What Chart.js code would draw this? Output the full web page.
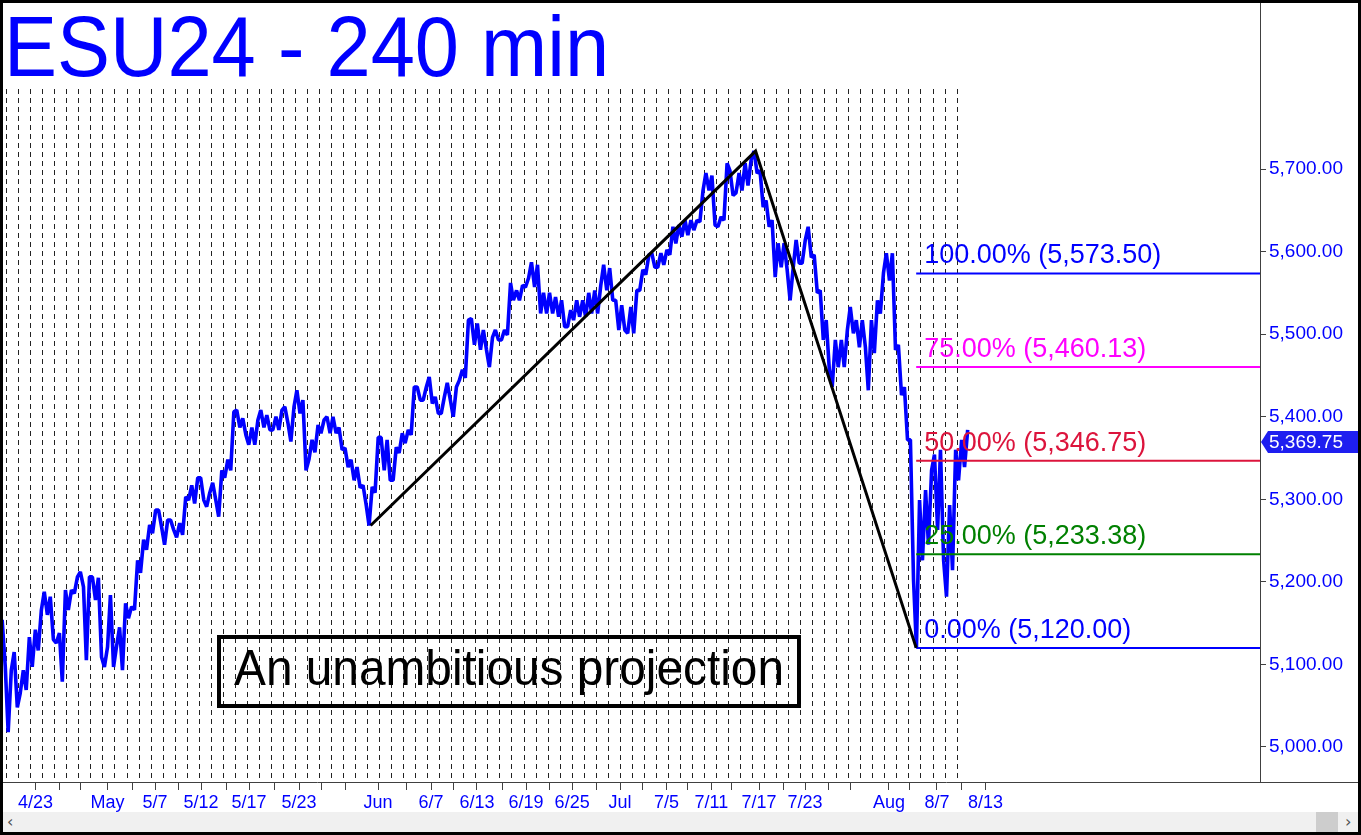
<!DOCTYPE html>
<html>
<head>
<meta charset="utf-8">
<title>ESU24 - 240 min</title>
<script src="https://cdn.jsdelivr.net/npm/chart.js@4"></script>
<style>
  html, body { margin: 0; padding: 0; background: #000; overflow: hidden; }
  #frame { position: absolute; left: 3px; top: 3px; width: 1355px; height: 829px; background: #fff; }
  #chart { position: absolute; left: 0; top: 0; }
  #scroll { position: absolute; left: 0; top: 809px; width: 1355px; height: 20px; background: #f0f0f0; }
  #scroll .arr { position: absolute; top: 0; font: 16px "DejaVu Sans", sans-serif; color: #505050; }
  #thumb { position: absolute; left: 1313px; top: 0; width: 22px; height: 20px; background: #cdcdcd; }
</style>
</head>
<body>
<div id="frame">
  <canvas id="chart" width="1355" height="809"></canvas>
  <div id="scroll">
    <span class="arr" style="left:4px">&lsaquo;</span>
    <div id="thumb"></div>
    <span class="arr" style="left:1342px">&rsaquo;</span>
  </div>
</div>
<script>
// ESU24 240-minute bars, grouped into half-session slots (low / high of each slot)
const sessions = 80;          // sessions with bars -> one dashed line per session
const firstSlot = -0.25;      // x of the first half-session slot, in session units
const lows = [
  5097, 5018, 5048, 5065, 5069, 5097, 5117, 5160, 5130, 5126,
  5079, 5166, 5186, 5194, 5105, 5178, 5109, 5097, 5097, 5121,
  5093, 5156, 5166, 5211, 5239, 5259, 5266, 5245, 5263, 5254,
  5257, 5299, 5295, 5299, 5291, 5299, 5279, 5326, 5335, 5387,
  5378, 5366, 5366, 5387, 5384, 5384, 5384, 5392, 5370, 5404,
  5335, 5348, 5357, 5380, 5380, 5380, 5360, 5339, 5323, 5314,
  5293, 5268.25, 5308, 5335, 5323, 5323, 5356, 5368, 5378, 5420,
  5420, 5416, 5404, 5404, 5420, 5400, 5444, 5447, 5487, 5481,
  5481, 5460, 5493, 5493, 5499, 5541, 5541, 5557, 5557, 5525,
  5525, 5525, 5521, 5509, 5509, 5517, 5521, 5521, 5525, 5525,
  5553, 5541, 5505, 5505, 5501, 5501, 5553, 5572, 5581, 5581,
  5584, 5596, 5610, 5618, 5620, 5626, 5636, 5674, 5632, 5630,
  5638, 5668, 5671, 5674, 5680, 5695, 5654, 5630, 5569, 5581,
  5577, 5541, 5586, 5586, 5593, 5550, 5493, 5457, 5436, 5460,
  5460, 5501, 5484, 5484, 5432, 5477, 5525, 5565, 5481, 5426,
  5372, 5202, 5120, 5226, 5245, 5263, 5226, 5182, 5214, 5323,
  5339
];
const highs = [
  5154, 5093, 5115, 5093, 5133, 5142, 5166, 5188, 5182, 5138,
  5190, 5190, 5206, 5212, 5206, 5206, 5205, 5121, 5184, 5145,
  5174, 5170, 5226, 5251, 5269, 5287, 5287, 5275, 5275, 5271,
  5303, 5317, 5326, 5326, 5308, 5320, 5335, 5348, 5406, 5408,
  5398, 5387, 5396, 5408, 5402, 5400, 5408, 5412, 5412, 5432,
  5420, 5372, 5390, 5396, 5400, 5400, 5387, 5362, 5348, 5339,
  5317, 5315, 5375, 5375, 5372, 5363, 5380, 5384, 5436, 5436,
  5436, 5448, 5424, 5424, 5441, 5436, 5457, 5517, 5519, 5513,
  5505, 5496, 5505, 5505, 5562, 5553, 5559, 5568, 5587, 5584,
  5550, 5550, 5545, 5541, 5529, 5541, 5541, 5550, 5553, 5559,
  5584, 5580, 5541, 5535, 5533, 5553, 5578, 5596, 5598, 5598,
  5602, 5630, 5632, 5638, 5638, 5638, 5674, 5695, 5692, 5642,
  5707, 5698, 5695, 5707, 5711, 5721.75, 5698, 5662, 5638, 5610,
  5610, 5581, 5614, 5614, 5630, 5596, 5553, 5517, 5493, 5493,
  5505, 5533, 5517, 5517, 5517, 5541, 5574, 5598, 5598, 5487,
  5436, 5372, 5299, 5311, 5335, 5354, 5360, 5293, 5360, 5372,
  5384
];
const lastPrice = 5369.75;

// date axis: tick positions (session units) and their labels
const tickPos = [
  2.40, 4.38, 6.11, 8.38, 10.42, 12.33, 14.32, 16.15, 18.23, 20.14,
  22.30, 24.30, 26.13, 28.20, 30.87, 33.20, 35.27, 37.18, 39.09, 41.25,
  43.17, 45.08, 47.00, 48.99, 50.98, 52.89, 54.85, 56.60, 58.58, 60.25,
  62.54, 64.53, 66.36, 68.35, 70.10, 73.34, 75.04, 77.33, 79.39, 81.36
];
const tickLabels = [
  '4/23', '', '', 'May', '', '5/7', '', '5/12', '', '5/17',
  '', '5/23', '', '', 'Jun', '', '6/7', '', '6/13', '',
  '6/19', '', '6/25', '', 'Jul', '', '7/5', '', '7/11', '',
  '7/17', '', '7/23', '', '', 'Aug', '', '8/7', '', '8/13'
];
const priceTicks = [5000, 5100, 5200, 5300, 5400, 5500, 5600, 5700];

// A-B-C swing and the projection levels
const abcX = [30.25, 62.25, 75.6];
const abcY = [5268.25, 5721.75, 5120.00];
const fibPct = [100, 75, 50, 25, 0];
const fibVal = [5573.50, 5460.13, 5346.75, 5233.38, 5120.00];
const fibColors = ['#0000ff', '#ff00ff', '#dc143c', '#008000', '#0000ff'];

const FONT = '"Liberation Sans", Arial, sans-serif';
const X_MIN = -0.31, X_MAX = 104.18;
const fmt = v => v.toLocaleString('en-US', { minimumFractionDigits: 2, maximumFractionDigits: 2 });

// each slot is drawn as a short stroke from one extreme to the other,
// ending on the side the market moves toward next (like the bar trace)
function slotPath() {
  const pts = [];
  lows.forEach((lo, j) => {
    const hi = highs[j];
    const c = firstSlot + j * 0.5;
    const nextMid = j + 1 < lows.length ? (lows[j + 1] + highs[j + 1]) / 2 : lastPrice;
    const up = nextMid > (lo + hi) / 2 || (j === lows.length - 1 && hi - lastPrice < lastPrice - lo);
    pts.push({ x: c - 0.13, y: up ? lo : hi }, { x: c + 0.13, y: up ? hi : lo });
  });
  return pts;
}

const fibSets = fibVal.map((v, i) => ({
  data: [{ x: abcX[2], y: v }, { x: X_MAX + 1, y: v }],
  borderColor: fibColors[i],
  borderWidth: 2,
  pointRadius: 0,
  order: 0
}));

const overlay = {
  id: 'overlay',
  beforeDraw(chart) {
    const { ctx } = chart;
    ctx.save();
    ctx.font = '85px ' + FONT;
    ctx.fillStyle = '#0000ff';
    ctx.textBaseline = 'alphabetic';
    ctx.translate(1, 73);
    ctx.scale(0.935, 1);
    ctx.fillText('ESU24 - 240 min', 0, 0);
    ctx.restore();
  },
  afterDatasetsDraw(chart) {
    const { ctx, chartArea: ca, scales: { x, y } } = chart;
    ctx.save();
    // level labels
    ctx.font = '27px ' + FONT;
    ctx.textBaseline = 'alphabetic';
    ctx.textAlign = 'left';
    const lx = x.getPixelForValue(abcX[2]) + 8;
    fibVal.forEach((v, i) => {
      ctx.fillStyle = fibColors[i];
      ctx.fillText(fibPct[i].toFixed(2) + '% (' + fmt(v) + ')', lx, y.getPixelForValue(v) - 10);
    });
    // caption box
    const bx = ca.left + 216, by = ca.top + 548, bw = 580, bh = 69;
    ctx.strokeStyle = '#000';
    ctx.lineWidth = 4;
    ctx.strokeRect(bx, by, bw, bh);
    const txt = 'An unambitious projection';
    ctx.font = '50px ' + FONT;
    ctx.fillStyle = '#000';
    const w = ctx.measureText(txt).width;
    ctx.translate(bx + bw / 2, by + 48);
    ctx.scale(550 / w, 1);
    ctx.textAlign = 'center';
    ctx.fillText(txt, 0, 0);
    ctx.restore();
  },
  afterDraw(chart) {
    const { ctx, chartArea: ca, scales: { y } } = chart;
    ctx.save();
    ctx.strokeStyle = '#404040';
    ctx.lineWidth = 1;
    ctx.beginPath();
    ctx.moveTo(ca.right + 0.5, 0);
    ctx.lineTo(ca.right + 0.5, ca.top);
    ctx.moveTo(ca.right, ca.bottom + 0.5);
    ctx.lineTo(chart.width, ca.bottom + 0.5);
    ctx.stroke();
    // last price tag
    const py = Math.round(y.getPixelForValue(lastPrice));
    ctx.fillStyle = '#1e1ef0';
    ctx.beginPath();
    ctx.moveTo(ca.right + 1, py);
    ctx.lineTo(ca.right + 8, py - 11);
    ctx.lineTo(chart.width, py - 11);
    ctx.lineTo(chart.width, py + 11);
    ctx.lineTo(ca.right + 8, py + 11);
    ctx.closePath();
    ctx.fill();
    ctx.fillStyle = '#fff';
    ctx.font = '19px ' + FONT;
    ctx.textBaseline = 'middle';
    ctx.fillText(fmt(lastPrice), ca.right + 9, py + 1);
    ctx.restore();
  }
};

new Chart(document.getElementById('chart'), {
  type: 'line',
  data: {
    datasets: [
      {
        data: abcX.map((v, i) => ({ x: v, y: abcY[i] })),
        borderColor: '#000',
        borderWidth: 3,
        pointRadius: 0,
        order: 0
      },
      ...fibSets,
      {
        data: slotPath(),
        borderColor: '#0000ff',
        borderWidth: 3.6,
        borderJoinStyle: 'bevel',
        pointRadius: 0,
        order: 1
      }
    ]
  },
  options: {
    responsive: false,
    animation: false,
    layout: { padding: { top: 86 } },
    plugins: {
      legend: { display: false },
      tooltip: { enabled: false },
      title: { display: false }
    },
    scales: {
      x: {
        type: 'linear',
        position: 'bottom',
        offset: false,
        min: X_MIN,
        max: X_MAX,
        afterBuildTicks: s => { s.ticks = tickPos.map(v => ({ value: v })); },
        afterFit: s => { s.height = 30; },
        ticks: {
          autoSkip: false,
          maxRotation: 0,
          minRotation: 0,
          padding: 2,
          color: '#0000ff',
          font: { family: FONT, size: 18 },
          callback: (v, i) => tickLabels[i]
        },
        grid: { offset: false, drawOnChartArea: false, drawTicks: true, tickLength: 8, tickColor: '#404040' },
        border: { display: true, color: '#404040', width: 1 }
      },
      xg: {
        type: 'linear',
        position: 'bottom',
        offset: false,
        min: X_MIN,
        max: X_MAX,
        afterBuildTicks: s => { s.ticks = Array.from({ length: sessions }, (_, k) => ({ value: k })); },
        afterFit: s => { s.height = 0; },
        ticks: { display: false },
        grid: { offset: false, drawOnChartArea: true, drawTicks: false, color: '#222', lineWidth: 1 },
        border: { display: false, dash: [5, 4] }
      },
      y: {
        type: 'linear',
        position: 'right',
        min: 4957.6,
        max: 5796.9,
        afterBuildTicks: s => { s.ticks = priceTicks.map(v => ({ value: v })); },
        afterFit: s => { s.width = 98; },
        ticks: {
          padding: 3,
          color: '#0000ff',
          font: { family: FONT, size: 19 },
          callback: v => fmt(v)
        },
        grid: { drawOnChartArea: false, drawTicks: true, tickLength: 6, tickColor: '#404040' },
        border: { display: true, color: '#404040', width: 1 }
      }
    }
  },
  plugins: [overlay]
});
</script>
</body>
</html>
